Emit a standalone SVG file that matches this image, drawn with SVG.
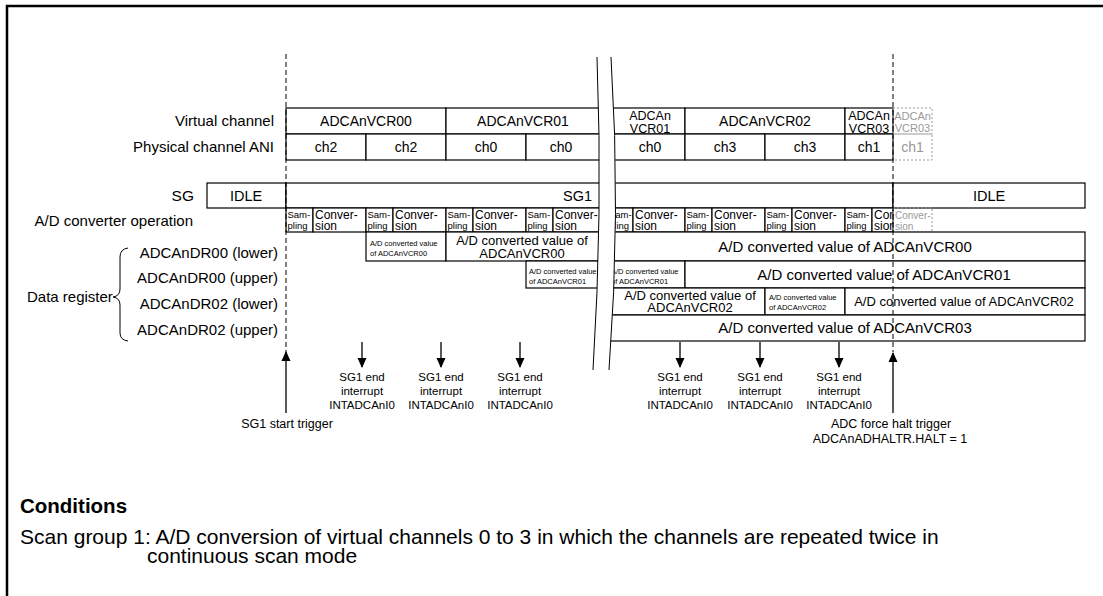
<svg xmlns="http://www.w3.org/2000/svg" width="1103" height="596" viewBox="0 0 1103 596">
<style>
text{font-family:"Liberation Sans",Arial,sans-serif;fill:#000}
.lbl{font-size:15px;text-anchor:end}
.box{fill:#fff;stroke:#000;stroke-width:1.2}
.ghost{fill:none;stroke:#999;stroke-width:1;stroke-dasharray:2,2}
.c14{font-size:14px;text-anchor:middle}
.c12{font-size:12.5px;text-anchor:middle}
.g{fill:#999}
.sam{font-size:9.5px}
.cnv{font-size:12px}
.big{font-size:15px;text-anchor:middle}
.mid{font-size:13px;text-anchor:middle}
.tiny{font-size:7.5px}
.irq{font-size:11.5px;text-anchor:middle}
.trg{font-size:12.5px;text-anchor:middle}
.dash{stroke:#000;stroke-width:1;stroke-dasharray:5,3;fill:none}
.arr{stroke:#000;stroke-width:1.3;fill:none}
</style>
<defs>
<marker id="ah" markerWidth="10" markerHeight="10" refX="9" refY="5" orient="auto" markerUnits="userSpaceOnUse">
<path d="M0,0.5 L10,5 L0,9.5 Z" fill="#000"/>
</marker>
<clipPath id="clipCo"><rect x="872" y="208" width="21" height="24"/></clipPath>
</defs>
<rect x="7" y="6" width="1110" height="600" fill="none" stroke="#000" stroke-width="2.5"/>

<g id="labels">
<text class="lbl" x="274" y="126">Virtual channel</text>
<text class="lbl" x="274" y="152">Physical channel ANI</text>
<text class="lbl" x="194" y="201" style="font-size:15.5px">SG</text>
<text class="lbl" x="193" y="226">A/D converter operation</text>
<text class="lbl" x="278" y="258">ADCAnDR00 (lower)</text>
<text class="lbl" x="278" y="283">ADCAnDR00 (upper)</text>
<text class="lbl" x="278" y="309">ADCAnDR02 (lower)</text>
<text class="lbl" x="278" y="335">ADCAnDR02 (upper)</text>
<text x="27" y="302" style="font-size:15px">Data register</text>
<path d="M128,248 Q120,249 120,257 L120,289 Q120,296 113,297 Q120,298 120,305 L120,333 Q120,340 128,341" fill="none" stroke="#000" stroke-width="1"/>
</g>

<g id="virtual-channel">
<rect class="box" x="286" y="108" width="160" height="26"/>
<text class="c14" x="366" y="126">ADCAnVCR00</text>
<rect class="box" x="446" y="108" width="160" height="26"/>
<text class="c14" x="523" y="126">ADCAnVCR01</text>
<rect class="box" x="604" y="108" width="81" height="26"/>
<text class="c12" x="650" y="120">ADCAn<tspan x="650" y="132.5">VCR01</tspan></text>
<rect class="box" x="685" y="108" width="160" height="26"/>
<text class="c14" x="765" y="126">ADCAnVCR02</text>
<rect class="box" x="845" y="108" width="48" height="26"/>
<text class="c12" x="869" y="120">ADCAn<tspan x="869" y="132.5">VCR03</tspan></text>
<rect class="ghost" x="893" y="108" width="39" height="26"/>
<text class="g" x="912.5" y="120" style="font-size:11px;text-anchor:middle">ADCAn<tspan x="912.5" y="132">VCR03</tspan></text>
</g>

<g id="physical-channel">
<rect class="box" x="286" y="134" width="80" height="26"/>
<text class="c14" x="326" y="152">ch2</text>
<rect class="box" x="366" y="134" width="80" height="26"/>
<text class="c14" x="406" y="152">ch2</text>
<rect class="box" x="446" y="134" width="80" height="26"/>
<text class="c14" x="486" y="152">ch0</text>
<rect class="box" x="526" y="134" width="80" height="26"/>
<text class="c14" x="561" y="152">ch0</text>
<rect class="box" x="604" y="134" width="81" height="26"/>
<text class="c14" x="650" y="152">ch0</text>
<rect class="box" x="685" y="134" width="80" height="26"/>
<text class="c14" x="725" y="152">ch3</text>
<rect class="box" x="765" y="134" width="80" height="26"/>
<text class="c14" x="805" y="152">ch3</text>
<rect class="box" x="845" y="134" width="48" height="26"/>
<text class="c14" x="869" y="152">ch1</text>
<rect class="ghost" x="893" y="134" width="39" height="26"/>
<text class="c14 g" x="912.5" y="152">ch1</text>
</g>

<g id="sg">
<rect class="box" x="207" y="183" width="79" height="25"/>
<text x="246" y="201" style="font-size:14.5px;text-anchor:middle">IDLE</text>
<rect class="box" x="286" y="183" width="320" height="25"/>
<text x="592" y="201" style="font-size:14.5px;text-anchor:end">SG1</text>
<rect class="box" x="604" y="183" width="289" height="25"/>
<rect class="box" x="893" y="183" width="192" height="25"/>
<text x="989" y="201" style="font-size:14.5px;text-anchor:middle">IDLE</text>
</g>

<g id="adc-operation">
<rect class="box" x="286" y="208" width="27" height="24"/>
<text class="sam" x="287.5" y="217.5">Sam-<tspan x="287.5" y="229">pling</tspan></text>
<rect class="box" x="313" y="208" width="53" height="24"/>
<text class="cnv" x="315" y="218.5">Conver-<tspan x="315" y="230">sion</tspan></text>
<rect class="box" x="366" y="208" width="27" height="24"/>
<text class="sam" x="367.5" y="217.5">Sam-<tspan x="367.5" y="229">pling</tspan></text>
<rect class="box" x="393" y="208" width="53" height="24"/>
<text class="cnv" x="395" y="218.5">Conver-<tspan x="395" y="230">sion</tspan></text>
<rect class="box" x="446" y="208" width="27" height="24"/>
<text class="sam" x="447.5" y="217.5">Sam-<tspan x="447.5" y="229">pling</tspan></text>
<rect class="box" x="473" y="208" width="53" height="24"/>
<text class="cnv" x="475" y="218.5">Conver-<tspan x="475" y="230">sion</tspan></text>
<rect class="box" x="526" y="208" width="27" height="24"/>
<text class="sam" x="527.5" y="217.5">Sam-<tspan x="527.5" y="229">pling</tspan></text>
<rect class="box" x="553" y="208" width="53" height="24"/>
<text class="cnv" x="555" y="218.5">Conver-<tspan x="555" y="230">sion</tspan></text>

<rect class="box" x="604" y="208" width="29" height="24"/>
<text class="sam" x="609" y="217.5">Sam-<tspan x="609" y="229">pling</tspan></text>
<rect class="box" x="633" y="208" width="52" height="24"/>
<text class="cnv" x="635" y="218.5">Conver-<tspan x="635" y="230">sion</tspan></text>
<rect class="box" x="685" y="208" width="27" height="24"/>
<text class="sam" x="686.5" y="217.5">Sam-<tspan x="686.5" y="229">pling</tspan></text>
<rect class="box" x="712" y="208" width="53" height="24"/>
<text class="cnv" x="714" y="218.5">Conver-<tspan x="714" y="230">sion</tspan></text>
<rect class="box" x="765" y="208" width="27" height="24"/>
<text class="sam" x="766.5" y="217.5">Sam-<tspan x="766.5" y="229">pling</tspan></text>
<rect class="box" x="792" y="208" width="53" height="24"/>
<text class="cnv" x="794" y="218.5">Conver-<tspan x="794" y="230">sion</tspan></text>
<rect class="box" x="845" y="208" width="27" height="24"/>
<text class="sam" x="846.5" y="217.5">Sam-<tspan x="846.5" y="229">pling</tspan></text>
<rect class="box" x="872" y="208" width="21" height="24"/>
<g clip-path="url(#clipCo)"><text class="cnv" x="874" y="218.5">Conver-<tspan x="874" y="230">sion</tspan></text></g>
<rect class="ghost" x="893" y="208" width="39" height="24"/>
<text class="g" x="895" y="218.5" style="font-size:10px">Conver-<tspan x="895" y="230">sion</tspan></text>
</g>

<g id="dr00-lower">
<rect class="box" x="366" y="232" width="80" height="29"/>
<text class="tiny" x="370" y="245.5">A/D converted value<tspan x="370" y="255.5">of ADCAnVCR00</tspan></text>
<rect class="box" x="446" y="232" width="160" height="29"/>
<text class="mid" x="522" y="245">A/D converted value of<tspan x="522" y="258">ADCAnVCR00</tspan></text>
<rect class="box" x="604" y="232" width="481" height="29"/>
<text class="big" x="845" y="252">A/D converted value of ADCAnVCR00</text>
</g>

<g id="dr00-upper">
<rect class="box" x="526" y="261" width="80" height="27"/>
<text class="tiny" x="529" y="273.5">A/D converted value<tspan x="529" y="283.5">of ADCAnVCR01</tspan></text>
<rect class="box" x="604" y="261" width="81" height="27"/>
<text class="tiny" x="611" y="273.5">A/D converted value<tspan x="611" y="283.5">of ADCAnVCR01</tspan></text>
<rect class="box" x="685" y="261" width="400" height="27"/>
<text class="big" x="884" y="280">A/D converted value of ADCAnVCR01</text>
</g>

<g id="dr02-lower">
<rect class="box" x="604" y="288" width="161" height="27"/>
<text class="mid" x="690" y="299.5">A/D converted value of<tspan x="690" y="312">ADCAnVCR02</tspan></text>
<rect class="box" x="765" y="288" width="80" height="27"/>
<text class="tiny" x="769" y="299.5">A/D converted value<tspan x="769" y="309.5">of ADCAnVCR02</tspan></text>
<rect class="box" x="845" y="288" width="240" height="27"/>
<text class="mid" x="964" y="306">A/D converted value of ADCAnVCR02</text>
</g>

<g id="dr02-upper">
<rect class="box" x="604" y="315" width="481" height="26"/>
<text class="big" x="845" y="333">A/D converted value of ADCAnVCR03</text>
</g>

<g id="break">
<path d="M597,57 Q603,214 593,370 L609,370 Q621,214 611,57 Z" fill="#fff" stroke="none"/>
<path d="M597,57 Q603,214 593,370" fill="none" stroke="#000" stroke-width="1"/>
<path d="M611,57 Q621,214 609,370" fill="none" stroke="#000" stroke-width="1"/>
</g>

<g id="connectors">
<line class="dash" x1="286" y1="54" x2="286" y2="352"/>
<line class="dash" x1="893" y1="54" x2="893" y2="352"/>
<line class="arr" x1="286" y1="413" x2="286" y2="352" marker-end="url(#ah)"/>
<line class="arr" x1="893" y1="413" x2="893" y2="353" marker-end="url(#ah)"/>
<line class="arr" x1="362" y1="342" x2="362" y2="367" marker-end="url(#ah)"/>
<line class="arr" x1="441" y1="342" x2="441" y2="367" marker-end="url(#ah)"/>
<line class="arr" x1="520" y1="342" x2="520" y2="367" marker-end="url(#ah)"/>
<line class="arr" x1="680" y1="342" x2="680" y2="367" marker-end="url(#ah)"/>
<line class="arr" x1="760" y1="342" x2="760" y2="367" marker-end="url(#ah)"/>
<line class="arr" x1="839" y1="342" x2="839" y2="367" marker-end="url(#ah)"/>
</g>

<g id="interrupts">
<text class="irq" x="362" y="381">SG1 end<tspan x="362" y="395">interrupt</tspan><tspan x="362" y="408.5">INTADCAnI0</tspan></text>
<text class="irq" x="441" y="381">SG1 end<tspan x="441" y="395">interrupt</tspan><tspan x="441" y="408.5">INTADCAnI0</tspan></text>
<text class="irq" x="520" y="381">SG1 end<tspan x="520" y="395">interrupt</tspan><tspan x="520" y="408.5">INTADCAnI0</tspan></text>
<text class="irq" x="680" y="381">SG1 end<tspan x="680" y="395">interrupt</tspan><tspan x="680" y="408.5">INTADCAnI0</tspan></text>
<text class="irq" x="760" y="381">SG1 end<tspan x="760" y="395">interrupt</tspan><tspan x="760" y="408.5">INTADCAnI0</tspan></text>
<text class="irq" x="839" y="381">SG1 end<tspan x="839" y="395">interrupt</tspan><tspan x="839" y="408.5">INTADCAnI0</tspan></text>
</g>

<g id="triggers">
<text class="trg" x="287" y="427.5">SG1 start trigger</text>
<text class="trg" x="891" y="427.5">ADC force halt trigger<tspan x="890" y="442.5">ADCAnADHALTR.HALT = 1</tspan></text>
</g>

<g id="conditions">
<text x="20" y="513" style="font-size:20.5px;font-weight:bold">Conditions</text>
<text x="20" y="544" style="font-size:21px">Scan group 1: A/D conversion of virtual channels 0 to 3 in which the channels are repeated twice in<tspan x="147" y="563">continuous scan mode</tspan></text>
</g>
</svg>
